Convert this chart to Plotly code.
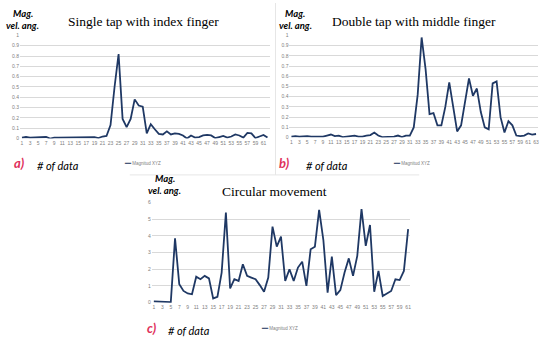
import plotly.graph_objects as go

W, H = 550, 341

# ---------------- data ----------------
single_tap = [0.01, 0.015, 0.01, 0.01, 0.01, 0.01, 0.015, 0.0, 0.01, 0.01,
              0.01, 0.015, 0.01, 0.015, 0.01, 0.015, 0.01, 0.01, 0.015, 0.005,
              0.02, 0.025, 0.13, 0.5, 0.82, 0.19, 0.11, 0.19, 0.38, 0.32,
              0.31, 0.05, 0.14, 0.09, 0.045, 0.04, 0.07, 0.04, 0.05, 0.045,
              0.03, 0.0, 0.03, 0.01, 0.015, 0.03, 0.035, 0.03, 0.005, 0.015,
              0.025, 0.01, 0.02, 0.04, 0.03, 0.01, 0.055, 0.05, 0.005, 0.02,
              0.035, 0.01]

double_tap = [0.01, 0.015, 0.01, 0.015, 0.015, 0.01, 0.01, 0.005, 0.01, 0.02,
              0.03, 0.015, 0.02, 0.005, 0.01, 0.01, 0.02, 0.01, 0.01, 0.02,
              0.025, 0.05, 0.02, 0.005, 0.005, 0.005, 0.01, 0.02, 0.005, 0.02,
              0.02, 0.1, 0.42, 0.98, 0.67, 0.23, 0.24, 0.12, 0.12, 0.3,
              0.54, 0.3, 0.06, 0.12, 0.33, 0.58, 0.41, 0.48, 0.25, 0.1,
              0.08, 0.53, 0.55, 0.2, 0.05, 0.16, 0.12, 0.02, 0.015, 0.02,
              0.04, 0.03, 0.035]

circular = [0.08, 0.07, 0.03, 0.03, 0.03, 3.85, 1.1, 0.7, 0.55, 0.5,
            1.55, 1.4, 1.6, 1.45, 0.25, 0.35, 1.8, 5.4, 0.85, 1.4,
            1.3, 2.3, 1.6, 1.5, 1.4, 1.05, 0.65, 1.5, 4.55, 3.35,
            3.95, 1.3, 2.0, 1.3, 2.1, 2.45, 1.0, 3.2, 3.35, 5.55,
            3.75, 0.6, 2.75, 0.45, 0.75, 1.8, 2.65, 1.6, 2.8, 5.6,
            3.4, 4.65, 0.65, 1.9, 0.4, 0.55, 0.7, 1.4, 1.35, 1.9,
            4.4]

titles = ["Single tap with index finger", "Double tap with middle finger", "Circular movement"]
panel_labels = ["a)", "b)", "c)"]
series_name = "Magnitud XYZ"
y_label_1 = "Mag."
y_label_2 = "vel. ang."
x_label = "# of data"

y_ticks_tap = [0, 0.1, 0.2, 0.3, 0.4, 0.5, 0.6, 0.7, 0.8, 0.9, 1]
y_ticks_circ = [0, 1, 2, 3, 4, 5, 6]

# ---------------- styles ----------------
LINE = "#1F3864"
GRID = "#D9D9D9"
TICK = "#808080"
RED = "#E0305A"


def px(x, y):
    return x / W, 1 - y / H


def xdom(a, b):
    return [a / W, b / W]


def ydom(top, bottom):
    return [1 - bottom / H, 1 - top / H]


fig = go.Figure()

series = [single_tap, double_tap, circular]
for i, vals in enumerate(series):
    n = len(vals)
    sfx = "" if i == 0 else str(i + 1)
    fig.add_trace(go.Scatter(
        x=list(range(1, n + 1)), y=vals, mode="lines",
        line=dict(color=LINE, width=1.8),
        name=series_name, showlegend=False,
        xaxis="x" + sfx, yaxis="y" + sfx,
    ))


def xaxis_cfg(dom, n, anchor):
    vals = list(range(1, n + 1, 2))
    return dict(domain=dom, range=[0.5, n + 0.5], anchor=anchor,
                tickvals=vals, ticktext=[str(v) for v in vals],
                tickfont=dict(size=5, color=TICK, family="Liberation Sans"),
                showgrid=False, zeroline=False, showline=False, ticks="",
                tickangle=0, fixedrange=True)


def yaxis_cfg(dom, ticks, anchor):
    return dict(domain=dom, range=[0, ticks[-1]], anchor=anchor,
                tickvals=ticks, ticktext=[("%g" % t) for t in ticks],
                tickfont=dict(size=5, color=TICK, family="Liberation Sans"),
                showgrid=True, gridcolor=GRID, gridwidth=1,
                zeroline=False, showline=False, ticks="", fixedrange=True)


fig.update_layout(
    width=W, height=H,
    margin=dict(l=0, r=0, t=0, b=0),
    paper_bgcolor="white", plot_bgcolor="white",
    showlegend=False,
    xaxis=xaxis_cfg(xdom(20, 270), len(single_tap), "y"),
    yaxis=yaxis_cfg(ydom(33, 138), y_ticks_tap, "x"),
    xaxis2=xaxis_cfg(xdom(290, 539), len(double_tap), "y2"),
    yaxis2=yaxis_cfg(ydom(33, 137), y_ticks_tap, "x2"),
    xaxis3=xaxis_cfg(xdom(152, 411), len(circular), "y3"),
    yaxis3=yaxis_cfg(ydom(203, 305), y_ticks_circ, "x3"),
)

ann = []


def text(x, y, t, size, color="black", family="Lato", xanchor="center"):
    X, Y = px(x, y)
    ann.append(dict(x=X, y=Y, xref="paper", yref="paper", text=t, showarrow=False,
                    font=dict(size=size, color=color, family=family),
                    xanchor=xanchor, yanchor="middle", borderpad=0))


# panel layout anchors: (title_cx, title_y, mag_cx, mag_y, vel_y, lab_x, lab_y, xl_x, leg_x)
panels = [
    (144, 19, 23, 11, 23, 13, 163, 36, 123),
    (415, 19, 296, 11, 23, 279, 163, 306, 393),
    (275, 192, 165, 179, 191, 146, 331, 167, 260),
]
for i, (tcx, ty, mcx, my, vy, lx, ly, xlx, legx) in enumerate(panels):
    text(tcx, ty, titles[i], 13.5, family="Liberation Serif")
    text(mcx, my, "<b><i>" + y_label_1 + "</i></b>", 9.5)
    text(mcx, vy, "<b><i>" + y_label_2 + "</i></b>", 9.5)
    text(lx, ly, "<b><i>" + panel_labels[i] + "</i></b>", 13, color=RED, xanchor="left")
    text(xlx, ly + 2, "<i>" + x_label + "</i>", 11, xanchor="left")
    text(legx, ly, '<span style="color:%s"><b>━━</b></span> %s' % (LINE, series_name),
         4.5, color=TICK, family="Liberation Sans", xanchor="left")

fig.update_layout(annotations=ann)

# faint frame lines separating the composed panels
fig.add_shape(type="line", xref="paper", yref="paper",
              x0=276 / W, x1=276 / W, y0=1 - 175 / H, y1=1, line=dict(color="#E6E6E6", width=1))
fig.add_shape(type="line", xref="paper", yref="paper",
              x0=130 / W, x1=420 / W, y0=1 - 175 / H, y1=1 - 175 / H, line=dict(color="#E6E6E6", width=1))

fig.write_html("out.html", config={"displayModeBar": False},
               post_script="document.body.style.margin='0';document.body.style.overflow='hidden';")
